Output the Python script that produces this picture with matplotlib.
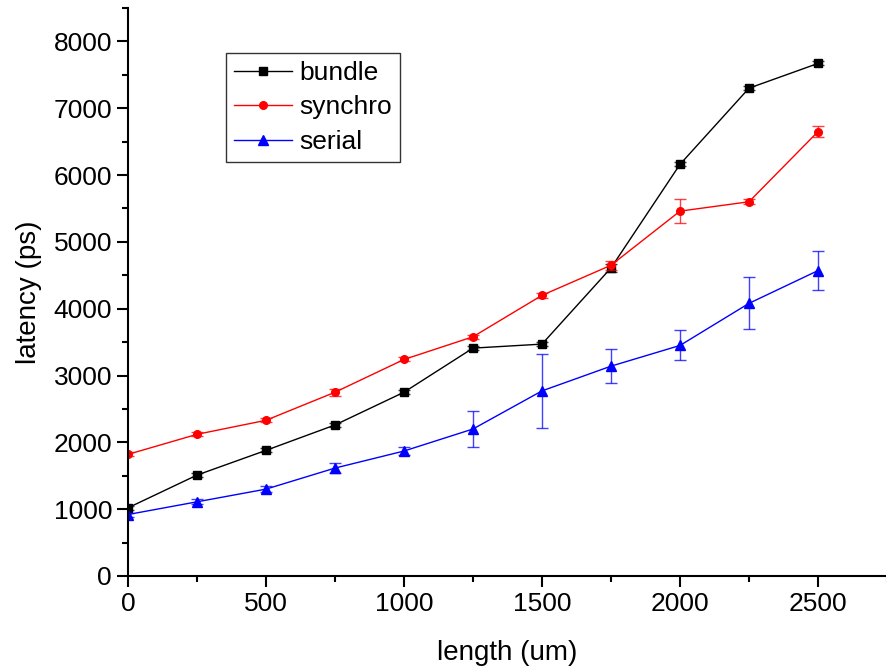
import matplotlib.pyplot as plt

plt.rcParams['font.family'] = ['Liberation Sans', 'DejaVu Sans']

length = [0, 250, 500, 750, 1000, 1250, 1500, 1750, 2000, 2250, 2500]

bundle = [1020, 1510, 1880, 2260, 2750, 3410, 3470, 4610, 6160, 7300, 7670]
bundle_err = [30, 30, 30, 30, 30, 30, 30, 60, 30, 30, 30]

synchro = [1820, 2120, 2330, 2750, 3240, 3580, 4200, 4650, 5460, 5600, 6650]
synchro_err = [30, 30, 30, 50, 30, 30, 40, 70, 180, 40, 80]

serial = [920, 1110, 1300, 1615, 1870, 2200, 2770, 3140, 3450, 4080, 4570]
serial_err = [30, 40, 50, 70, 60, 270, 550, 250, 225, 390, 290]

fig = plt.figure(figsize=(8.87, 6.7), dpi=100)
ax = fig.add_axes([0.1443, 0.1403, 0.8557, 0.8478])

series = [
    (bundle, bundle_err, 'black', 's', 5.5, 'bundle'),
    (synchro, synchro_err, 'red', 'o', 5.5, 'synchro'),
    (serial, serial_err, 'blue', '^', 6.5, 'serial'),
]
handles = []
for vals, errs, col, mk, size, name in series:
    ax.errorbar(length, vals, yerr=errs, fmt='none', ecolor=col, elinewidth=1,
                capsize=4.5, alpha=0.75)
    line, = ax.plot(length, vals, color=col, marker=mk, ms=size, lw=1, label=name)
    handles.append(line)

ax.set_xlim(0, 2735)
ax.set_ylim(0, 8500)
ax.set_xticks(range(0, 2501, 500))
ax.set_xticks(range(250, 2751, 500), minor=True)
ax.set_yticks(range(0, 8001, 1000))
ax.set_yticks(range(500, 8501, 1000), minor=True)

ax.spines['top'].set_visible(False)
ax.spines['right'].set_visible(False)
ax.spines['left'].set_linewidth(1.5)
ax.spines['bottom'].set_linewidth(1.5)
ax.tick_params(which='major', direction='out', length=8, width=1.5, labelsize=19)
ax.tick_params(which='minor', direction='out', length=4.5, width=1.5)

ax.set_xlabel('length (um)', fontsize=20, labelpad=17)
ax.set_ylabel('latency (ps)', fontsize=20, labelpad=8)

leg = ax.legend(handles=handles, loc='upper left', bbox_to_anchor=(0.129, 0.921),
                fontsize=19, frameon=True, fancybox=False, edgecolor='black',
                handlelength=2.2, handletextpad=0.3, labelspacing=0.4,
                borderpad=0.3, borderaxespad=0)
leg.get_frame().set_linewidth(1)

fig.savefig('out.png', dpi=100)
